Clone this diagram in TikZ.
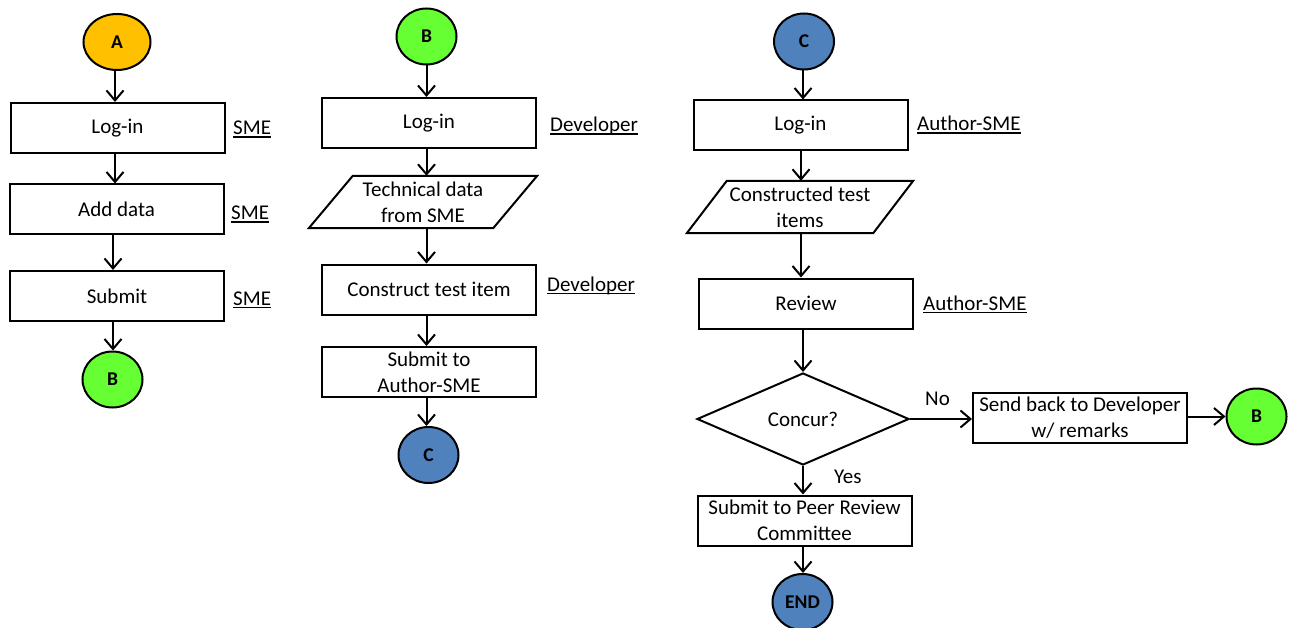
\documentclass[tikz,border=0pt]{standalone}
\usepackage{fontspec}
\setmainfont{Carlito}
\usetikzlibrary{shapes.geometric,arrows.meta}
\definecolor{cA}{HTML}{FFC000}
\definecolor{cB}{HTML}{66FF33}
\definecolor{cC}{HTML}{4F81BD}
\newcommand\ulbl[1]{\setbox0\hbox{#1}\rlap{\rule[-2.8pt]{\wd0}{1.3pt}}\box0}
\begin{document}
\begin{tikzpicture}[x=1pt,y=-1pt,
  every node/.style={font=\fontsize{21}{26}\selectfont},
  box/.style={draw, line width=2pt, rectangle, minimum width=214pt, minimum height=50pt, inner sep=0pt, align=center},
  para/.style={minimum width=184pt, minimum height=52pt, inner sep=0pt, align=center},
  pshape/.style={draw, line width=2pt, line join=miter},
  conn/.style={draw, ellipse, line width=2pt, minimum width=60pt, minimum height=56pt, inner sep=0pt, font=\fontsize{19.5}{22}\selectfont\bfseries},
  dec/.style={draw, diamond, line width=2pt, minimum width=212pt, minimum height=92pt, inner sep=0pt},
  role/.style={anchor=base west, inner sep=0pt},
  lbl/.style={anchor=base west, inner sep=0pt},
  arr/.style={line width=2pt, -{Straight Barb[length=10pt,width=17pt]}}
]
\useasboundingbox (0,0) rectangle (1297,628);
% column 1
\node[conn, fill=cA, minimum width=67pt] (A1) at (117,42) {A};
\node[box] (l1) at (117.5,128) {Log-in};
\node[box] (d1) at (116.5,209.5) {Add data};
\node[box] (s1) at (117,296) {Submit};
\node[conn, fill=cB] (B1) at (112.5,379.5) {B};
\node[role] (r1) at (233,135) {\ulbl{SME}};
\node[role] (r2) at (231,220) {\ulbl{SME}};
\node[role] (r3) at (233,305) {\ulbl{SME}};
\draw[arr] (A1.south -| 115,0) -- (l1.north -| 115,0);
\draw[arr] (l1.south -| 115,0) -- (d1.north -| 115,0);
\draw[arr] (d1.south -| 113,0) -- (s1.north -| 113,0);
\draw[arr] (s1.south -| 113,0) -- (B1.north -| 113,0);
% column 2
\node[conn, fill=cB] (B2) at (426.5,36.5) {B};
\node[box] (l2) at (429,123) {Log-in};
\node[para] (p2) at (423,202) {Technical data\\from SME};
\draw[pshape] ([xshift=22pt]p2.north west) -- ([xshift=22pt]p2.north east) -- ([xshift=-22pt]p2.south east) -- ([xshift=-22pt]p2.south west) -- cycle;
\node[box] (c2) at (429,289.5) {Construct test item};
\node[box] (s2) at (429,372) {Submit to\\Author-SME};
\node[conn, fill=cC] (C2) at (428.5,455) {C};
\node[role] (r4) at (550,132) {\ulbl{Developer}};
\node[role] (r5) at (547,291) {\ulbl{Developer}};
\draw[arr] (B2.south) -- (B2.south |- l2.north);
\draw[arr] (l2.south -| B2.south) -- (p2.north -| B2.south);
\draw[arr] (p2.south -| B2.south) -- (c2.north -| B2.south);
\draw[arr] (c2.south -| B2.south) -- (s2.north -| B2.south);
\draw[arr] (s2.south -| B2.south) -- (C2.north -| B2.south);
% column 3
\node[conn, fill=cC] (C3) at (804,41.5) {C};
\node[box] (l3) at (800.5,125.5) {Log-in};
\node[para, minimum width=186pt] (p3) at (800,207) {Constructed test\\items};
\draw[pshape] ([xshift=20pt]p3.north west) -- ([xshift=20pt]p3.north east) -- ([xshift=-20pt]p3.south east) -- ([xshift=-20pt]p3.south west) -- cycle;
\node[box] (rv) at (806,303.5) {Review};
\node[dec] (dc) at (803,419) {Concur?};
\node[box] (pr) at (804.5,520.5) {Submit to Peer Review\\Committee};
\node[conn, fill=cC] (E) at (802.5,602) {END};
\node[box] (sb) at (1080,417.5) {Send back to Developer\\w/ remarks};
\node[conn, fill=cB] (B3) at (1256.5,416.5) {B};
\node[role] (r6) at (917,131) {\ulbl{Author-SME}};
\node[role] (r7) at (923,310) {\ulbl{Author-SME}};
\node[lbl] (no) at (925,405) {No};
\node[lbl] (yes) at (834,483) {Yes};
\draw[arr] (C3.south -| 803,0) -- (l3.north -| 803,0);
\draw[arr] (l3.south -| 801,0) -- (p3.north -| 801,0);
\draw[arr] (p3.south -| 801,0) -- (rv.north -| 801,0);
\draw[arr] (rv.south -| dc.north) -- (dc.north);
\draw[arr] (dc.south) -- (dc.south |- pr.north);
\draw[arr] (pr.south -| dc.south) -- (E.north -| dc.south);
\draw[arr] (dc.east) -- (dc.east -| sb.west);
\draw[arr] (sb.east |- B3.west) -- (B3.west);
\end{tikzpicture}
\end{document}
